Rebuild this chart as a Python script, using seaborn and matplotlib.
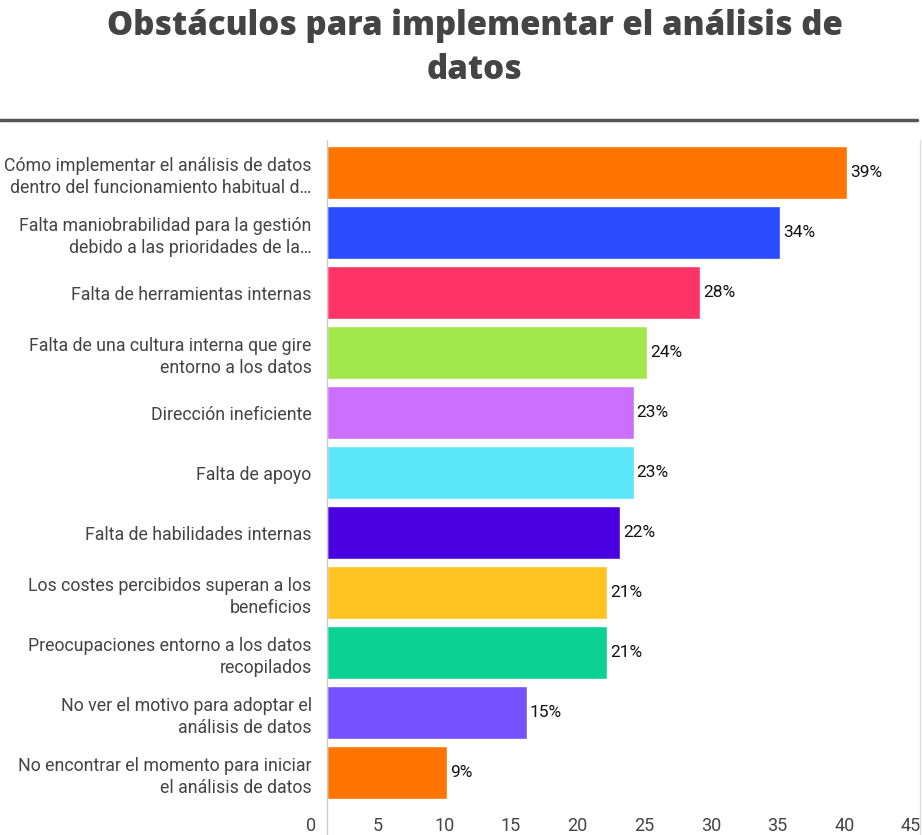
import matplotlib.pyplot as plt
import matplotlib.transforms as mtransforms
from matplotlib.lines import Line2D
import seaborn as sns
import pandas as pd

categories = [
    "Cómo implementar el análisis de datos\ndentro del funcionamiento habitual d…",
    "Falta maniobrabilidad para la gestión\ndebido a las prioridades de la…",
    "Falta de herramientas internas",
    "Falta de una cultura interna que gire\nentorno a los datos",
    "Dirección ineficiente",
    "Falta de apoyo",
    "Falta de habilidades internas",
    "Los costes percibidos superan a los\nbeneficios",
    "Preocupaciones entorno a los datos\nrecopilados",
    "No ver el motivo para adoptar el\nanálisis de datos",
    "No encontrar el momento para iniciar\nel análisis de datos",
]
values = [39, 34, 28, 24, 23, 23, 22, 21, 21, 15, 9]
colors = ["#FF7500", "#2A4BFF", "#FF3366", "#A2E84A", "#CC6EFF", "#5CE6FA",
          "#4A00E0", "#FFC421", "#0BD193", "#7452FF", "#FF7500"]
xticks = [0, 5, 10, 15, 20, 25, 30, 35, 40, 45]

df = pd.DataFrame({"category": categories, "value": values})

sns.set_theme(style="white")
plt.rcParams['font.family'] = ['Roboto', 'DejaVu Sans']

fig = plt.figure(figsize=(9.22, 8.35), dpi=100, facecolor="white")
ax = fig.add_axes([327 / 922, 1 - 803 / 835, 600 / 922, 660.5 / 835])

sns.barplot(data=df, y="category", x="value", hue="category", palette=colors,
            orient="h", width=0.883, legend=False, ax=ax, saturation=1)

ax.set_xlim(0, 45)
ax.set_xticks(xticks)
ax.set_xlabel("")
ax.set_ylabel("")
for s in ax.spines.values():
    s.set_visible(False)
ax.tick_params(axis="x", length=0, pad=10, labelsize=13, labelcolor="#444444")
ax.tick_params(axis="y", length=0, pad=11, labelsize=12.8, labelcolor="#444444")
for lab in ax.get_yticklabels():
    lab.set_linespacing(1.3)

# tick labels sit a bit left of their ticks in the reference
shift = mtransforms.ScaledTranslation(-16 / 100, 0, fig.dpi_scale_trans)
for lab in ax.get_xticklabels():
    lab.set_transform(lab.get_transform() + shift)

for i, v in enumerate(values):
    ax.annotate(f"{v}%", xy=(v, i), xytext=(2, 0), textcoords="offset points",
                va="center", ha="left", fontsize=12.5, color="#111111")

# left axis line and right frame line
fig.add_artist(Line2D([327 / 922, 327 / 922], [0, 1 - 140 / 835],
                      transform=fig.transFigure, color="#cccccc", lw=1))
fig.add_artist(Line2D([920 / 922, 920 / 922], [0, 1 - 140 / 835],
                      transform=fig.transFigure, color="#dddddd", lw=1))
# rule under title
fig.add_artist(Line2D([0, 917 / 922], [1 - 120 / 835, 1 - 120 / 835],
                      transform=fig.transFigure, color="#555555", lw=2.5))

fig.text(475 / 922, 1 - 48 / 835, "Obstáculos para implementar el análisis de\ndatos",
         ha="center", va="center", fontsize=23.8, fontweight="heavy",
         color="#444444", family=["Open Sans", "DejaVu Sans"], linespacing=1.4)

fig.savefig("out.png", dpi=100, facecolor="white")
